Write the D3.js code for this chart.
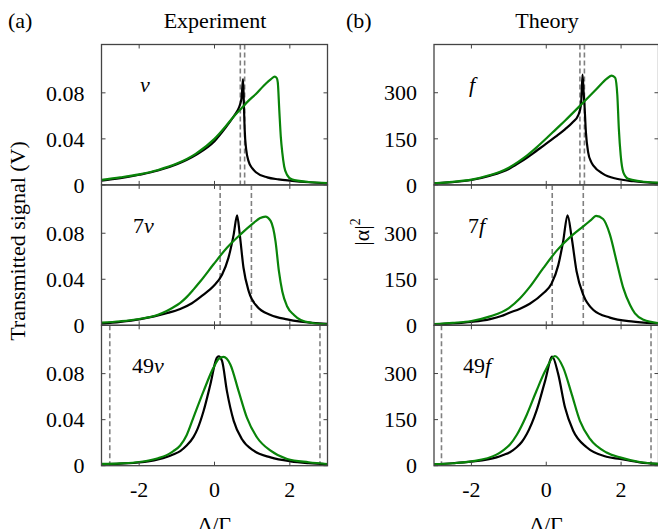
<!DOCTYPE html>
<html lang="en">
<head>
<meta charset="UTF-8">
<script src="https://d3js.org/d3.v7.min.js"></script>
<style>
  html, body { margin: 0; padding: 0; background: #fff; }
  svg { display: block; font-family: "Liberation Serif", "Times New Roman", serif; }
</style>
<title>Experiment vs Theory</title>
</head>
<body>
<div id="chart"></div>
<script>
// ---- data ----
const xTicks = [-2, 0, 2];
const expTicks = [0, 0.04, 0.08];
const thyTicks = [0, 150, 300];
const rowNames = ["", "7", "49"];

// Experiment, transmitted signal (V) vs Δ/Γ
const expBlack1 = [[-3,0.0037],[-2.5,0.0058],[-2,0.0088],[-1.5,0.0125],[-1,0.018],[-0.5,0.026],[0,0.038],[0.3,0.050],[0.5,0.059],[0.6,0.064],[0.68,0.070],[0.72,0.076],[0.757,0.092],[0.78,0.070],[0.80,0.049],[0.84,0.031],[0.91,0.020],[1.0,0.0145],[1.1,0.011],[1.4,0.0065],[1.7,0.0048],[2,0.0037],[2.5,0.0023],[3,0.0015]];
const expGreen1 = [[-3,0.0043],[-2.5,0.0065],[-2,0.0092],[-1.5,0.013],[-1,0.0185],[-0.5,0.027],[0,0.040],[0.3,0.051],[0.5,0.059],[0.7,0.066],[0.9,0.073],[1.1,0.079],[1.3,0.086],[1.5,0.092],[1.6,0.094],[1.65,0.093],[1.68,0.089],[1.72,0.065],[1.76,0.042],[1.8,0.028],[1.85,0.016],[1.93,0.0085],[2.05,0.0048],[2.5,0.0025],[3,0.0016]];
const expBlack2 = [[-3,0.0014],[-2.5,0.003],[-2,0.0052],[-1.6,0.0078],[-1.27,0.0105],[-0.91,0.0142],[-0.6,0.0192],[-0.3,0.0265],[-0.03,0.034],[0.2,0.044],[0.37,0.0586],[0.51,0.079],[0.6,0.0956],[0.67,0.079],[0.77,0.050],[0.91,0.0294],[1.13,0.0163],[1.49,0.009],[1.93,0.0052],[2.29,0.0032],[3,0.0012]];
const expGreen2 = [[-3,0.0023],[-2.5,0.0035],[-2,0.0055],[-1.5,0.0092],[-1.27,0.0125],[-1.1,0.0155],[-0.91,0.0195],[-0.74,0.0245],[-0.56,0.031],[-0.38,0.038],[-0.03,0.0528],[0.33,0.0674],[0.69,0.079],[1.04,0.089],[1.2,0.093],[1.35,0.0945],[1.49,0.0907],[1.62,0.073],[1.71,0.047],[1.8,0.0294],[1.93,0.0163],[2.11,0.009],[2.29,0.0046],[2.6,0.002],[3,0.0009]];
const expBlack3 = [[-3,0.0012],[-2.5,0.0018],[-2,0.0028],[-1.5,0.0055],[-1.27,0.0076],[-1.1,0.0098],[-0.91,0.0127],[-0.74,0.0175],[-0.56,0.0248],[-0.45,0.032],[-0.29,0.0475],[-0.11,0.0706],[0.06,0.0937],[0.11,0.095],[0.2,0.091],[0.33,0.0648],[0.51,0.039],[0.73,0.023],[1.04,0.013],[1.49,0.0072],[2.02,0.0038],[2.5,0.0022],[3,0.0012]];
const expGreen3 = [[-3,0.0015],[-2.5,0.002],[-2,0.0032],[-1.5,0.0065],[-1.27,0.0092],[-1.1,0.0125],[-0.91,0.0175],[-0.74,0.0265],[-0.56,0.0418],[-0.29,0.0648],[-0.03,0.085],[0.12,0.093],[0.24,0.0945],[0.42,0.088],[0.64,0.0648],[0.86,0.0418],[1.13,0.0245],[1.49,0.013],[1.93,0.0058],[2.5,0.003],[3,0.0015]];

// Theory, |α|² vs Δ/Γ
const thyBlack1 = [[-3,5],[-2.5,9],[-2,16],[-1.5,30],[-1,52],[-0.75,70],[-0.5,90],[-0.25,112],[0,134],[0.25,157],[0.5,181],[0.7,203],[0.86,228],[0.93,262],[0.97,359],[1.0,300],[1.02,265],[1.06,171],[1.12,106],[1.2,75],[1.26,63],[1.52,36],[1.88,20],[2.33,12],[3,6]];
const thyGreen1 = [[-3,5],[-2.5,10],[-2,17],[-1.5,32],[-1.25,42],[-1,56],[-0.75,75],[-0.5,97],[-0.25,123],[0,151],[0.25,180],[0.5,209],[0.93,261],[1.35,313],[1.62,346],[1.75,356],[1.84,349],[1.9,291],[1.94,183],[1.99,96],[2.06,41],[2.19,20],[2.51,12],[3,7]];
const thyBlack2 = [[-3,3],[-2.5,6],[-2,11],[-1.5,20],[-1.2,30],[-1,40],[-0.7,54],[-0.44,70],[-0.08,104],[0.14,135],[0.32,195],[0.45,272],[0.57,358],[0.68,285],[0.81,176],[0.99,99],[1.26,50],[1.7,25],[2.33,12],[3,6]];
const thyGreen2 = [[-3,4],[-2.5,8],[-2,14],[-1.5,29],[-1,56],[-0.7,88],[-0.44,125],[-0.08,186],[0.28,243],[0.63,286],[0.99,322],[1.2,343],[1.33,356],[1.52,346],[1.7,296],[1.88,208],[2.06,121],[2.24,66],[2.37,39],[2.6,18],[3,7]];
const thyBlack3 = [[-3,5],[-2.5,8],[-2,13],[-1.33,27],[-1.15,35],[-0.97,44],[-0.79,60],[-0.65,78],[-0.52,103],[-0.26,179],[-0.03,276],[0.16,355],[0.32,298],[0.5,190],[0.72,114],[1.08,60],[1.61,29],[1.97,22],[2.5,11],[3,6]];
const thyGreen3 = [[-3,5],[-2.5,8],[-2,14],[-1.33,36],[-1.15,50],[-0.97,69],[-0.79,100],[-0.52,166],[-0.26,244],[-0.03,308],[0.23,357],[0.45,320],[0.68,233],[0.9,146],[1.17,87],[1.61,43],[1.97,27],[2.5,12],[3,6]];

// dashed vertical markers (Δ/Γ)
const expDashes = [[0.685, 0.80], [0.15, 0.98], [-2.78, 2.8]];
const thyDashes = [[0.90, 1.02], [0.16, 0.99], [-2.80, 2.80]];

// ---- layout ----
const width = 658, height = 529;
const rowTop = 44.5, rowH = 140.4;
const cols = [
  {x0: 101.5, x1: 327.5, ymax: 0.122, ticks: expTicks, fmt: d => d === 0 ? "0" : d.toFixed(2),
   unit: "ν", lx: [140, 133, 132], black: [expBlack1, expBlack2, expBlack3], green: [expGreen1, expGreen2, expGreen3], dashes: expDashes},
  {x0: 434, x1: 658.5, ymax: 457, ticks: thyTicks, fmt: d => String(d),
   unit: "f", lx: [469, 468, 463], black: [thyBlack1, thyBlack2, thyBlack3], green: [thyGreen1, thyGreen2, thyGreen3], dashes: thyDashes}
];
const labelBase = [92, 233, 373];

const svg = d3.select("#chart").append("svg")
  .attr("width", width).attr("height", height);

cols.forEach(function (c, ci) {
  const x = d3.scaleLinear().domain([-3, 3]).range([c.x0, c.x1]);

  for (let r = 0; r < 3; r++) {
    const top = rowTop + r * rowH;
    const y = d3.scaleLinear().domain([0, c.ymax]).range([top + rowH, top]);
    const g = svg.append("g");

    g.append("defs").append("clipPath").attr("id", "clip" + ci + r)
      .append("rect").attr("x", c.x0).attr("y", top).attr("width", c.x1 - c.x0).attr("height", rowH);

    // dashed markers
    g.selectAll(".dash").data(c.dashes[r]).enter().append("line")
      .attr("x1", d => x(d)).attr("x2", d => x(d))
      .attr("y1", top).attr("y2", top + rowH)
      .attr("stroke", "#808080").attr("stroke-width", 1.6)
      .attr("stroke-dasharray", "5,3");

    const line = d3.line().x(d => x(d[0])).y(d => y(d[1])).curve(d3.curveMonotoneX);
    const plot = g.append("g").attr("clip-path", "url(#clip" + ci + r + ")");
    plot.append("path").datum(c.black[r]).attr("d", line)
      .attr("fill", "none").attr("stroke", "#000").attr("stroke-width", 2.2);
    plot.append("path").datum(c.green[r]).attr("d", line)
      .attr("fill", "none").attr("stroke", "#098409").attr("stroke-width", 2.2);

    // inward ticks on all four sides
    const tl = 4;
    xTicks.forEach(function (t) {
      g.append("line").attr("x1", x(t)).attr("x2", x(t)).attr("y1", top).attr("y2", top + tl)
        .attr("stroke", "#444");
      g.append("line").attr("x1", x(t)).attr("x2", x(t)).attr("y1", top + rowH).attr("y2", top + rowH - tl)
        .attr("stroke", "#444");
    });
    c.ticks.forEach(function (t) {
      g.append("line").attr("x1", c.x0).attr("x2", c.x0 + tl).attr("y1", y(t)).attr("y2", y(t))
        .attr("stroke", "#444");
      g.append("line").attr("x1", c.x1).attr("x2", c.x1 - tl).attr("y1", y(t)).attr("y2", y(t))
        .attr("stroke", "#444");
      g.append("text").attr("x", c.x0 - 17).attr("y", y(t)).attr("dy", "0.35em")
        .attr("text-anchor", "end").attr("font-size", 22).text(c.fmt(t));
    });

    g.append("rect").attr("x", c.x0).attr("y", top).attr("width", c.x1 - c.x0).attr("height", rowH)
      .attr("fill", "none").attr("stroke", "#444").attr("stroke-width", 1.3);

    // panel label
    const lab = g.append("text").attr("x", c.lx[r]).attr("y", labelBase[r]).attr("font-size", 22);
    if (rowNames[r]) lab.append("tspan").text(rowNames[r]);
    lab.append("tspan").attr("font-style", "italic").text(c.unit);
  }

  // x tick labels
  xTicks.forEach(function (t) {
    svg.append("text").attr("x", x(t)).attr("y", 497).attr("text-anchor", "middle")
      .attr("font-size", 22).text(String(t));
  });
  svg.append("text").attr("x", x(0)).attr("y", 532).attr("text-anchor", "middle")
    .attr("font-size", 22).text("Δ/Γ");
});

// titles
svg.append("text").attr("x", 8).attr("y", 28).attr("font-size", 22).text("(a)");
svg.append("text").attr("x", 346).attr("y", 28).attr("font-size", 22).text("(b)");
svg.append("text").attr("x", 215).attr("y", 28).attr("text-anchor", "middle").attr("font-size", 22).text("Experiment");
svg.append("text").attr("x", 547).attr("y", 28).attr("text-anchor", "middle").attr("font-size", 22).text("Theory");

// y labels
svg.append("text").attr("transform", "translate(25,241) rotate(-90)")
  .attr("text-anchor", "middle").attr("font-size", 22).text("Transmitted signal (V)");
const al = svg.append("text").attr("transform", "translate(369,232) rotate(-90)")
  .attr("text-anchor", "middle").attr("font-size", 22);
al.append("tspan").text("|α|");
al.append("tspan").attr("font-size", 14).attr("dy", -9).text("2");
</script>
</body>
</html>
